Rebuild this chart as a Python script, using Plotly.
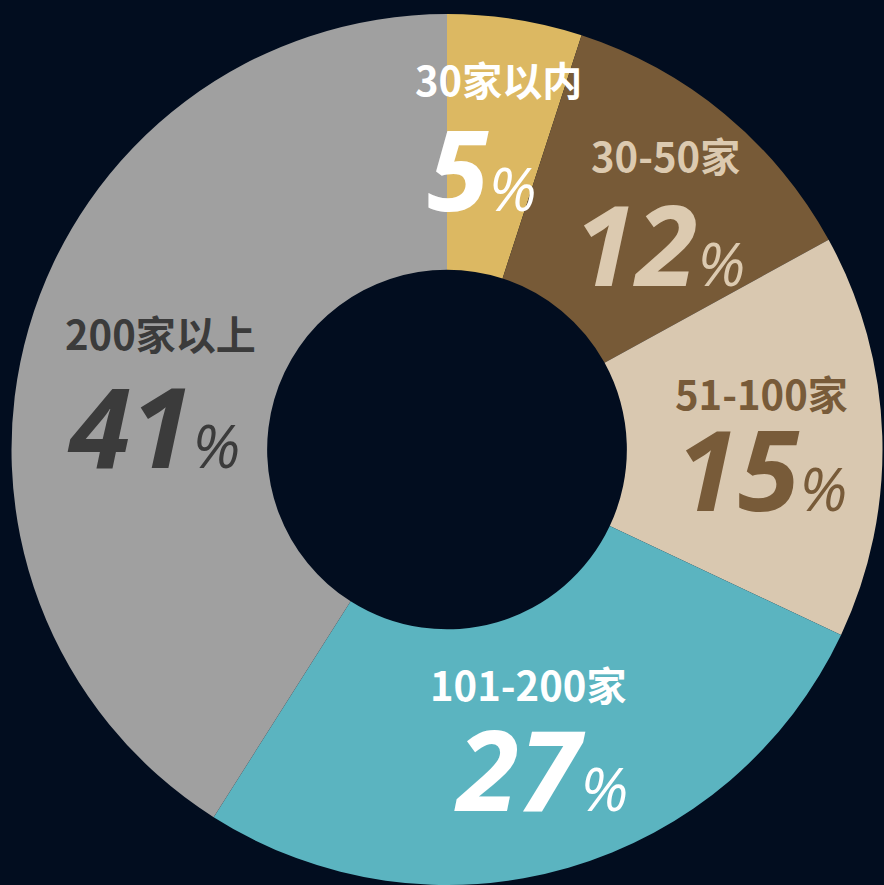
import plotly.graph_objects as go

# Share of companies by store count
categories = ["30家以内", "30-50家", "51-100家", "101-200家", "200家以上"]
shares = [5, 12, 15, 27, 41]
slice_colors = ["#dcb862", "#775a37", "#d9c8b0", "#5bb4c0", "#a0a0a0"]
text_colors = ["#ffffff", "#dccab0", "#785b39", "#ffffff", "#3b3b3b"]

# label anchor points (pixels from top-left) for name and percentage
name_pos = [(498, 79), (665, 155), (761, 393), (528, 684), (160, 333)]
value_pos = [(482, 167), (659, 242), (761, 467), (541, 767), (153, 424)]

W, H = 884, 885
BG = "#020d1f"

fig = go.Figure(
    go.Pie(
        labels=categories,
        values=shares,
        marker=dict(colors=slice_colors, line=dict(width=0)),
        hole=0.413,
        sort=False,
        direction="clockwise",
        rotation=0,
        textinfo="none",
        hoverinfo="label+percent",
        showlegend=False,
        domain=dict(x=[11 / W, 883 / W], y=[0, 1 - 14 / H]),
    )
)

annotations = []
for cat, val, col, (nx, ny), (vx, vy) in zip(
    categories, shares, text_colors, name_pos, value_pos
):
    annotations.append(
        dict(
            x=nx / W, y=1 - ny / H, xref="paper", yref="paper",
            xanchor="center", yanchor="middle", showarrow=False,
            text=f"<b>{cat}</b>",
            font=dict(family="Noto Sans CJK SC", size=40, color=col),
        )
    )
    annotations.append(
        dict(
            x=vx / W, y=1 - vy / H, xref="paper", yref="paper",
            xanchor="center", yanchor="middle", showarrow=False,
            text=f"<b><i>{val}</i></b><i style='font-size:60px'>%</i>",
            font=dict(family="Open Sans", size=112, color=col),
        )
    )

fig.update_layout(
    width=W, height=H,
    margin=dict(l=0, r=0, t=0, b=0),
    paper_bgcolor=BG, plot_bgcolor=BG,
    annotations=annotations,
)

fig.write_html("out.html")
